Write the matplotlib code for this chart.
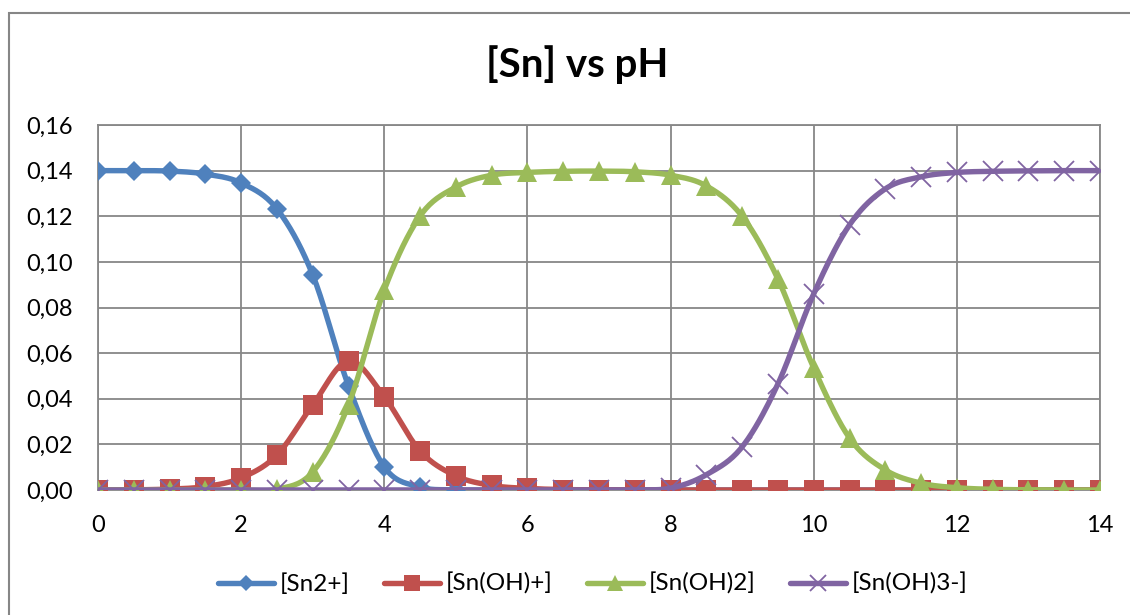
import numpy as np
import matplotlib
matplotlib.use("Agg")
import matplotlib.pyplot as plt
from matplotlib.patches import Rectangle

plt.rcParams['font.family'] = ['Lato', 'DejaVu Sans']

# pH e concentrações das espécies de estanho
ph = [0, 0.5, 1, 1.5, 2, 2.5, 3, 3.5, 4, 4.5, 5, 5.5, 6, 6.5, 7, 7.5,
      8, 8.5, 9, 9.5, 10, 10.5, 11, 11.5, 12, 12.5, 13, 13.5, 14]
sn2 = [0.1400, 0.1400, 0.1398, 0.1385, 0.1346, 0.1232, 0.0943, 0.0456, 0.0101, 0.0013,
       0.0001, 0, 0, 0, 0, 0, 0, 0, 0, 0, 0, 0, 0, 0, 0, 0, 0, 0, 0]
snoh = [0.00003, 0.0001, 0.0004, 0.0015, 0.0053, 0.0153, 0.0373, 0.0566, 0.0408, 0.0171,
        0.0062, 0.0020, 0.0007, 0.0002, 0.0001, 0, 0, 0, 0, 0, 0, 0, 0, 0, 0, 0, 0, 0, 0]
snoh2 = [0, 0, 0, 0, 0, 0.0003, 0.0079, 0.0373, 0.0877, 0.1201, 0.1328, 0.1380, 0.1392,
         0.1397, 0.1398, 0.1395, 0.1380, 0.1333, 0.1200, 0.0925, 0.0535, 0.0228, 0.0088,
         0.0030, 0.0010, 0.0003, 0.0001, 0, 0]
snoh3 = [0, 0, 0, 0, 0, 0, 0, 0, 0, 0, 0, 0, 0, 0, 0, 0.0001, 0.0008, 0.0067, 0.0189,
         0.0465, 0.0860, 0.1162, 0.1320, 0.1373, 0.1392, 0.1397, 0.1399, 0.1400, 0.1400]

nomes = ['[Sn2+]', '[Sn(OH)+]', '[Sn(OH)2]', '[Sn(OH)3-]']
cores = ['#4F81BD', '#C0504D', '#9BBB59', '#8064A2']
marcadores = ['D', 's', '^', 'x']
tam_marc = [10, 15, 15, 14.5]


def suavizar(x, y, n=20):
    # curva suave tipo Excel (Catmull-Rom em forma de Bezier)
    x = np.asarray(x, float)
    y = np.asarray(y, float)
    px = np.concatenate([[x[0]], x, [x[-1]]])
    py = np.concatenate([[y[0]], y, [y[-1]]])
    t = np.linspace(0, 1, n)[:, None]
    xs, ys = [], []
    for i in range(1, len(px) - 2):
        p0 = np.array([px[i - 1], py[i - 1]])
        p1 = np.array([px[i], py[i]])
        p2 = np.array([px[i + 1], py[i + 1]])
        p3 = np.array([px[i + 2], py[i + 2]])
        c1 = p1 + (p2 - p0) / 6
        c2 = p2 - (p3 - p1) / 6
        b = ((1 - t) ** 3) * p1 + 3 * ((1 - t) ** 2) * t * c1 + 3 * (1 - t) * t ** 2 * c2 + t ** 3 * p2
        xs.append(b[:, 0])
        ys.append(b[:, 1])
    return np.concatenate(xs), np.concatenate(ys)


fig = plt.figure(figsize=(11.3, 6.15), dpi=100)
ax = fig.add_axes([98 / 1130, 1 - 490 / 615, 1002 / 1130, 365 / 615])

# borda do gráfico
fig.patches.append(Rectangle((9 / 1130, -0.1), 1.2, 1 - 13 / 615 + 0.1, transform=fig.transFigure,
                             fill=False, edgecolor='#868686', linewidth=1.5, zorder=0))

series = [sn2, snoh, snoh2, snoh3]
for k, (ys, nome, cor, mk, ms) in enumerate(zip(series, nomes, cores, marcadores, tam_marc)):
    sx, sy = suavizar(ph, ys)
    mew = 1.3 if mk == 'x' else 0
    ax.plot(sx, sy, color=cor, linewidth=3.9, zorder=3 + k, solid_capstyle='round')
    ax.plot(ph, ys, linestyle='none', marker=mk, color=cor, markersize=ms,
            markeredgewidth=mew, zorder=3 + k)
    ax.plot([], [], color=cor, linewidth=3.9, marker=mk, markersize=ms * 0.8,
            markeredgewidth=mew, label=nome, solid_capstyle='round')

ax.set_xlim(0, 14)
ax.set_ylim(0, 0.16)
ax.set_xticks(np.arange(0, 15, 2))
ax.set_yticks(np.arange(0, 0.161, 0.02))
ax.set_yticklabels([f"{v:.2f}".replace('.', ',') for v in np.arange(0, 0.161, 0.02)])
ax.grid(True, color='#878787', linewidth=1.3, zorder=1)
ax.set_axisbelow(True)
for s in ax.spines.values():
    s.set_color('#878787')
    s.set_linewidth(1.3)
ax.tick_params(length=0, labelsize=17, colors='black')
ax.tick_params(axis='y', pad=18)
ax.tick_params(axis='x', pad=18)

fig.text(577 / 1130, 1 - 65 / 615, '[Sn] vs pH', fontsize=29, fontweight='bold',
         ha='center', va='center')

fig.legend(loc='center', bbox_to_anchor=(593 / 1130, 1 - 584 / 615), ncol=4, frameon=False,
           fontsize=17.5, handlelength=2.3, handletextpad=0.25, columnspacing=1.4)

fig.savefig('out.png', dpi=100)
